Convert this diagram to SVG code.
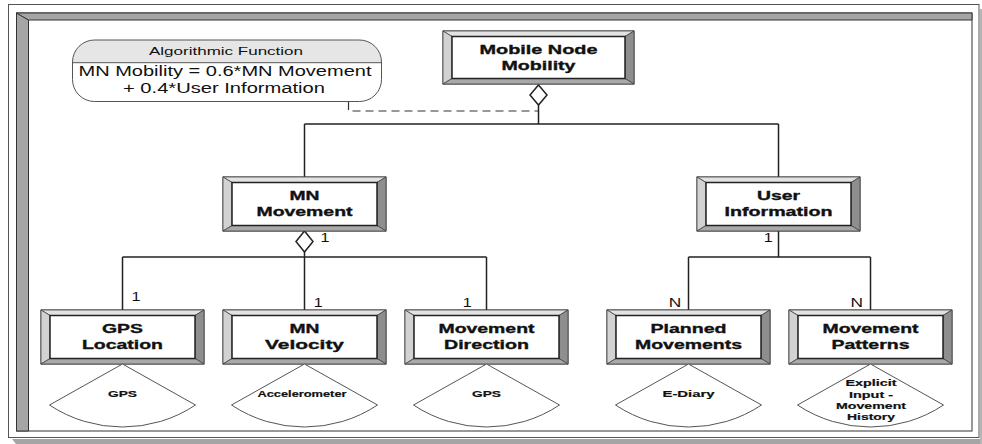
<svg xmlns="http://www.w3.org/2000/svg" xmlns:xlink="http://www.w3.org/1999/xlink" width="982" height="444" viewBox="0 0 982 444">
<style>
.frame{fill:#fff;stroke:#555;stroke-width:1}
.band{fill:#a5a5a5;stroke:#333;stroke-width:1}
.nb{font-family:"Liberation Sans",Arial,sans-serif;font-weight:bold;font-size:13px;fill:#111;stroke:#111;stroke-width:0.35;text-anchor:middle}
.fb{font-family:"Liberation Sans",Arial,sans-serif;font-weight:bold;font-size:9.5px;fill:#111;stroke:#111;stroke-width:0.2;text-anchor:middle}
.lb{font-family:"Liberation Sans",Arial,sans-serif;font-size:12px;fill:#111;text-anchor:middle}
.nt{font-family:"Liberation Sans",Arial,sans-serif;fill:#111;text-anchor:middle}
.ln{fill:none;stroke:#222;stroke-width:1.5}
.dia{fill:#fff;stroke:#222;stroke-width:1.5}
.dash{fill:none;stroke:#333;stroke-width:1.2;stroke-dasharray:8 5}
.fan{fill:#fff;stroke:#555;stroke-width:1}
.bt{fill:#e2e2e2;stroke:#444;stroke-width:0.8}
.bl{fill:#d2d2d2;stroke:#444;stroke-width:0.8}
.br{fill:#8e8e8e;stroke:#444;stroke-width:0.8}
.bb{fill:#a9a9a9;stroke:#444;stroke-width:0.8}
.in{fill:#fff;stroke:#222;stroke-width:1.5}
</style>
<defs>
<g id="box">
<rect x="0" y="0" width="163" height="54" fill="none" stroke="#333" stroke-width="1"/>
<polygon class="bt" points="0,0 163,0 154,5.5 9,5.5"/>
<polygon class="bl" points="0,0 9,5.5 9,48.5 0,54"/>
<polygon class="br" points="163,0 163,54 154,48.5 154,5.5"/>
<polygon class="bb" points="0,54 9,48.5 154,48.5 163,54"/>
<rect class="in" x="9" y="5.5" width="145" height="43"/>
</g>
<clipPath id="noteClip"><rect x="72.5" y="40" width="309" height="61.5" rx="22" ry="22"/></clipPath>
</defs>

<g id="frame">
<polygon points="12,439 982,439 982,444 16,444" fill="#a5a5a5"/>
<rect x="980" y="9" width="2" height="435" fill="#b5b5b5"/>
<rect class="frame" x="8.5" y="4.5" width="970.5" height="433"/>
<rect x="16.5" y="13" width="955.5" height="418" fill="#fff" stroke="#333" stroke-width="1"/>
<polygon class="band" points="16.5,13 28.5,20 28.5,431 16.5,431"/>
<polygon class="band" points="16.5,13 972,13 972,20 28.5,20"/>
</g>

<g id="note">
<g clip-path="url(#noteClip)">
<rect x="72.5" y="40" width="309" height="61.5" fill="#fff"/>
<rect x="72.5" y="40" width="309" height="22.7" fill="#e6e6e6"/>
</g>
<rect x="72.5" y="40" width="309" height="61.5" rx="22" ry="22" fill="none" stroke="#555" stroke-width="1"/>
<line x1="72.5" y1="62.7" x2="381.5" y2="62.7" stroke="#555" stroke-width="1"/>
<text class="nt" x="226" y="55" font-size="10.7" fill="#333" textLength="154" lengthAdjust="spacingAndGlyphs">Algorithmic Function</text>
<text class="nt" x="225" y="76" font-size="14" textLength="293" lengthAdjust="spacingAndGlyphs">MN Mobility = 0.6*MN Movement</text>
<text class="nt" x="224" y="93.3" font-size="14" textLength="202" lengthAdjust="spacingAndGlyphs">+ 0.4*User Information</text>
</g>

<g id="connectors">
<path class="dash" d="M348.5,102 V111 H538.5"/>
<path class="ln" d="M538.5,105 V124 M304.5,124 H778.5 M304.5,124 V177 M778.5,124 V177"/>
<path class="ln" d="M304.5,252 V310 M122.5,257 H486.5 M122.5,257 V310 M486.5,257 V310"/>
<path class="ln" d="M778.5,231 V257 M688.5,257 H870.5 M688.5,257 V310 M870.5,257 V310"/>
<path class="dia" d="M538.5,85 L547,95 L538.5,105 L530,95 Z"/>
<path class="dia" d="M304.5,231 L313,241.5 L304.5,252 L296,241.5 Z"/>
<text class="lb" x="325" y="242.3" textLength="9" lengthAdjust="spacingAndGlyphs">1</text>
<text class="lb" x="768.3" y="242.3" textLength="9" lengthAdjust="spacingAndGlyphs">1</text>
<text class="lb" x="136" y="301" textLength="9" lengthAdjust="spacingAndGlyphs">1</text>
<text class="lb" x="318.3" y="306.7" textLength="9" lengthAdjust="spacingAndGlyphs">1</text>
<text class="lb" x="467.3" y="306.7" textLength="9" lengthAdjust="spacingAndGlyphs">1</text>
<text class="lb" x="675" y="306.7" textLength="12.5" lengthAdjust="spacingAndGlyphs">N</text>
<text class="lb" x="856.7" y="306.7" textLength="12.5" lengthAdjust="spacingAndGlyphs">N</text>
</g>

<g id="node-mobile-node-mobility">
<rect x="443" y="31" width="191" height="53" fill="none" stroke="#333" stroke-width="1"/>
<polygon class="bt" points="443,31 634,31 625,36.5 452,36.5"/>
<polygon class="bl" points="443,31 452,36.5 452,78.5 443,84"/>
<polygon class="br" points="634,31 634,84 625,78.5 625,36.5"/>
<polygon class="bb" points="443,84 452,78.5 625,78.5 634,84"/>
<rect class="in" x="452" y="36.5" width="173" height="42"/>
<text class="nb" x="538.5" y="53.5" textLength="118" lengthAdjust="spacingAndGlyphs">Mobile Node</text>
<text class="nb" x="538.5" y="69.5" textLength="74" lengthAdjust="spacingAndGlyphs">Mobility</text>
</g>

<g id="node-mn-movement">
<use xlink:href="#box" x="223" y="177"/>
<text class="nb" x="304.5" y="200" textLength="30" lengthAdjust="spacingAndGlyphs">MN</text>
<text class="nb" x="304.5" y="216" textLength="96" lengthAdjust="spacingAndGlyphs">Movement</text>
</g>

<g id="node-user-information">
<use xlink:href="#box" x="697" y="177"/>
<text class="nb" x="778.5" y="200" textLength="43" lengthAdjust="spacingAndGlyphs">User</text>
<text class="nb" x="778.5" y="216" textLength="108" lengthAdjust="spacingAndGlyphs">Information</text>
</g>

<g id="node-gps-location">
<use xlink:href="#box" x="41" y="310"/>
<text class="nb" x="122.5" y="333" textLength="41" lengthAdjust="spacingAndGlyphs">GPS</text>
<text class="nb" x="122.5" y="349" textLength="81" lengthAdjust="spacingAndGlyphs">Location</text>
<path class="fan" d="M122.5,364 L49.5,405 A132 132 0 0 0 195.5,405 Z"/>
<text class="fb" x="122.5" y="397" textLength="29" lengthAdjust="spacingAndGlyphs">GPS</text>
</g>

<g id="node-mn-velocity">
<use xlink:href="#box" x="223" y="310"/>
<text class="nb" x="304.5" y="333" textLength="30" lengthAdjust="spacingAndGlyphs">MN</text>
<text class="nb" x="304.5" y="349" textLength="79" lengthAdjust="spacingAndGlyphs">Velocity</text>
<path class="fan" d="M304.5,364 L231.5,405 A132 132 0 0 0 377.5,405 Z"/>
<text class="fb" x="302" y="397" textLength="89" lengthAdjust="spacingAndGlyphs">Accelerometer</text>
</g>

<g id="node-movement-direction">
<use xlink:href="#box" x="405" y="310"/>
<text class="nb" x="486.5" y="333" textLength="96" lengthAdjust="spacingAndGlyphs">Movement</text>
<text class="nb" x="486.5" y="349" textLength="85" lengthAdjust="spacingAndGlyphs">Direction</text>
<path class="fan" d="M486.5,364 L413.5,405 A132 132 0 0 0 559.5,405 Z"/>
<text class="fb" x="486.5" y="397" textLength="29" lengthAdjust="spacingAndGlyphs">GPS</text>
</g>

<g id="node-planned-movements">
<use xlink:href="#box" x="607" y="310"/>
<text class="nb" x="688.5" y="333" textLength="76" lengthAdjust="spacingAndGlyphs">Planned</text>
<text class="nb" x="688.5" y="349" textLength="107" lengthAdjust="spacingAndGlyphs">Movements</text>
<path class="fan" d="M688.5,364 L615.5,405 A132 132 0 0 0 761.5,405 Z"/>
<text class="fb" x="688.5" y="397" textLength="52" lengthAdjust="spacingAndGlyphs">E-Diary</text>
</g>

<g id="node-movement-patterns">
<use xlink:href="#box" x="789" y="310"/>
<text class="nb" x="870.5" y="333" textLength="96" lengthAdjust="spacingAndGlyphs">Movement</text>
<text class="nb" x="870.5" y="349" textLength="78" lengthAdjust="spacingAndGlyphs">Patterns</text>
<path class="fan" d="M870.5,364 L797.5,405 A132 132 0 0 0 943.5,405 Z"/>
<text class="fb" x="871" y="386" textLength="51" lengthAdjust="spacingAndGlyphs">Explicit</text>
<text class="fb" x="871" y="397.5" textLength="44" lengthAdjust="spacingAndGlyphs">Input -</text>
<text class="fb" x="871" y="409" textLength="70" lengthAdjust="spacingAndGlyphs">Movement</text>
<text class="fb" x="871" y="420" textLength="48" lengthAdjust="spacingAndGlyphs">History</text>
</g>
</svg>
